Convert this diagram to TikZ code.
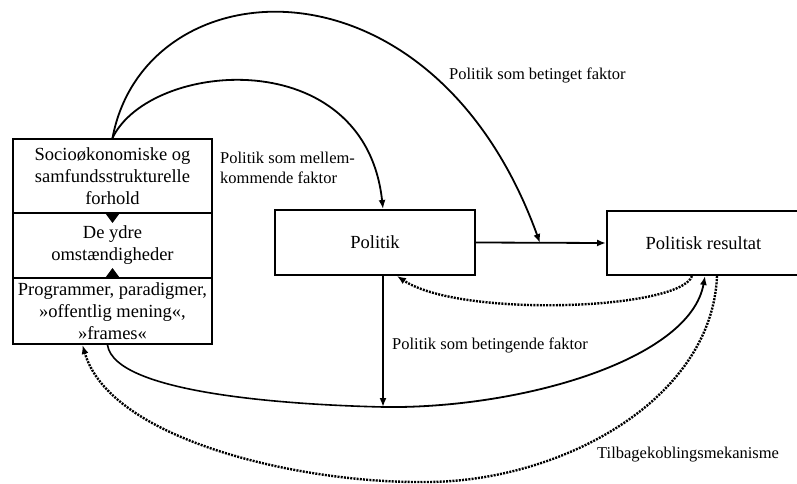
\documentclass[tikz,border=0pt]{standalone}
\usepackage{fontspec}
\setmainfont{Liberation Serif}
\usetikzlibrary{arrows.meta}
\tikzset{
  box/.style={draw, line width=2pt, inner sep=0pt, align=center,
    font=\fontsize{18.5}{22}\selectfont},
  lbl/.style={inner sep=0pt, anchor=west, align=left,
    font=\fontsize{16.5}{20}\selectfont},
  link/.style={line width=1.8pt, -{Latex[length=9pt,width=7pt]}},
  feedback/.style={line width=2.4pt, dash pattern=on 2pt off 1.2pt,
    -{Latex[length=9pt,width=7pt]}},
  stub/.style={line width=1pt, -{Triangle[length=9pt,width=13pt]}},
}
\begin{document}
\begin{tikzpicture}[x=1pt,y=-1pt]
  \useasboundingbox (0,0) rectangle (797,484);
  % left stack
  \node[box, minimum width=199pt, minimum height=74pt] (socio) at (112.5,176)
    {Socioøkonomiske og\\samfundsstrukturelle\\forhold};
  \node[box, minimum width=199pt, minimum height=65pt] (ydre) at (112.5,245.5)
    {De ydre\\omstændigheder};
  \node[box, minimum width=199pt, minimum height=66pt] (frames) at (112.5,311)
    {Programmer, paradigmer,\\»offentlig mening«,\\»frames«};
  % main boxes
  \node[box, minimum width=200pt, minimum height=65pt] (politik) at (375,242.5) {Politik};
  \node[box, minimum width=193pt, minimum height=64pt] (resultat) at (703.5,243) {Politisk resultat};
  % labels
  \node[lbl] (betinget) at (449,75) {Politik som betinget faktor};
  \node[lbl] (mellem) at (220,168) {Politik som mellem-\\kommende faktor};
  \node[lbl] (betingende) at (392,345) {Politik som betingende faktor};
  \node[lbl] (tilbage) at (597,455) {Tilbagekoblingsmekanisme};
  \coordinate (drop) at (383,407);
  \coordinate (hit) at (540,243);
  \begin{scope}
    \draw[stub] (socio.south) -- ++(0,9);
    \draw[stub] (frames.north) -- ++(0,-9);
    \draw[link] (socio.north) .. controls (145,-35) and (432,-55) .. (hit);
    \draw[link] (socio.north) .. controls (150,60) and (365,42) .. ([xshift=8pt]politik.north);
    \draw[link] (politik.east) -- (resultat.west);
    \draw[link] ([xshift=8pt]politik.south) -- (drop);
    \draw[line width=1.6pt] ([xshift=-5pt]frames.south) .. controls (115,395) and (300,405) .. (drop);
    \draw[link] (drop) .. controls (520,409) and (690,360) .. ([xshift=1.5pt]resultat.south);
  \end{scope}
  \begin{scope}
    \draw[feedback] ([xshift=-11.5pt]resultat.south) .. controls (680,310) and (460,318) .. ([xshift=22pt]politik.south);
    \draw[feedback] ([xshift=13.5pt]resultat.south) .. controls (712,400) and (560,483) .. (423,482)
      .. controls (300,483) and (110,440) .. ([xshift=-30pt]frames.south);
  \end{scope}
\end{tikzpicture}
\end{document}
